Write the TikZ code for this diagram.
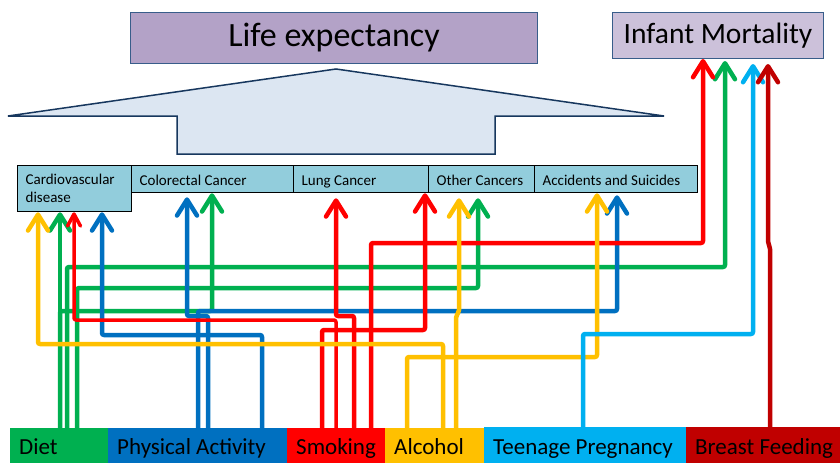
\documentclass[tikz,border=0pt]{standalone}
\usepackage{fontspec}
\setmainfont{Carlito}
\usetikzlibrary{arrows.meta,positioning,calc}
\definecolor{dietgreen}{RGB}{0,176,80}
\definecolor{actblue}{RGB}{0,112,192}
\definecolor{smokered}{RGB}{255,0,0}
\definecolor{alcyellow}{RGB}{255,192,0}
\definecolor{teenblue}{RGB}{0,176,240}
\definecolor{breastred}{RGB}{192,0,0}
\definecolor{diseasefill}{RGB}{146,205,220}
\definecolor{lifefill}{RGB}{179,162,199}
\definecolor{infantfill}{RGB}{204,193,218}
\definecolor{outcomeline}{RGB}{56,93,138}
\definecolor{bigarrowfill}{RGB}{220,230,242}
\definecolor{bigarrowline}{RGB}{23,55,94}

\begin{document}
\begin{tikzpicture}[x=1pt, y=-1pt,
  outcome/.style={draw=outcomeline, line width=1pt, anchor=north west, inner sep=0pt},
  disease/.style={draw=black, line width=1.3pt, fill=diseasefill, anchor=north west,
    inner xsep=8pt, inner ysep=0pt, minimum height=27pt, align=left,
    execute at begin node={\spaceskip=0pt\xspaceskip=0pt\relax},
    text height=13pt, text depth=1pt, font=\fontsize{15}{18}\selectfont},
  factor/.style={anchor=north west, inner xsep=9pt, inner ysep=0pt, minimum height=35pt,
    align=left, execute at begin node={\spaceskip=0pt\xspaceskip=0pt\relax},
    text height=19pt, text depth=1pt, font=\fontsize{23}{27}\selectfont},
  link/.style={line width=4.5pt, line join=round, rounded corners=2pt,
    -{Straight Barb[length=16pt,width=20pt,round]}},
  small tip/.style={line width=3.5pt, -{Straight Barb[length=12pt,width=13pt,round]}},
]
\useasboundingbox (0,0) rectangle (840,463);

% ----------------------
% Outcomes
% ----------------------
\node[outcome, fill=lifefill, minimum width=407pt, minimum height=51pt,
  font=\fontsize{34}{40}\selectfont] (life) at (130,12) {Life expectancy};
\node[outcome, fill=infantfill, minimum width=211pt, minimum height=46pt,
  font=\fontsize{29.5}{34}\selectfont] (infant) at (612,12) {Infant Mortality};

% big block arrow
\draw[line width=1.5pt, draw=bigarrowline, fill=bigarrowfill, line join=miter]
  (336,69) -- (664,116) -- (495,116) -- (495,154) -- (177,154) -- (177,116)
  -- (8,116) -- cycle;

% ----------------------
% Causes of death
% ----------------------
\node[disease, text width=146pt] (crc) at (131,165) {Colorectal Cancer};
\node[disease, text width=119pt] (lung) at (293,165) {Lung Cancer};
\node[disease, text width=90pt] (other) at (428,165) {Other Cancers};
\node[disease, text width=147pt] (acc) at (534,165) {Accidents and Suicides};
\node[disease, text width=98pt, minimum height=46pt, text height={}, text depth={}]
  (cvd) at (17,165) {Cardiovascular\\disease};

% ----------------------
% Risk factors
% ----------------------
\node[factor, fill=dietgreen, text width=80pt] (diet) at (10,428) {Diet};
\node[factor, fill=actblue, text width=161pt] (act) at (108,428) {Physical Activity};
\node[factor, fill=smokered, text width=80pt] (smoke) at (287,428) {Smoking};
\node[factor, fill=alcyellow, text width=81pt] (alc) at (385,428) {Alcohol};
\node[factor, fill=teenblue, text width=184pt, minimum height=36pt] (teen) at (484,427)
  {Teenage Pregnancy};
\node[factor, fill=breastred, text width=136pt, minimum height=36pt] (breast) at (686,427)
  {\mbox{Breast Feeding}};

% ----------------------
% Links (one colour per factor)
% ----------------------
% diet
\draw[link, dietgreen] (diet.north -| 60,0) -- (cvd.south -| 60,0);
\draw[link, dietgreen] (diet.north -| 60,0) |- (212,311) -- (crc.south -| 212,0);
\draw[link, dietgreen] (diet.north -| 67,0) |- (725,267) -- ([yshift=-2pt]infant.south -| 725,0);
\draw[link, dietgreen] (diet.north -| 77,0) |- (478,288) -- ([yshift=-5pt]other.south -| 478,0);

% physical activity
\draw[link, actblue] (act.north -| 262,0) |- (102,335) -- (cvd.south -| 102,0);
\draw[link, actblue] (act.north -| 208,0) |- (187,316) -- ([yshift=-4pt]crc.south -| 187,0);
\draw[link, actblue] (act.north -| 198,0) |- (617,311) -- ([yshift=-2pt]acc.south -| 617,0);

% smoking
\draw[link, small tip, smokered] (smoke.north -| 336,0) |- (74,320) -- (cvd.south -| 74,0);
\draw[link, smokered] (smoke.north -| 354,0) |- (336,316) -- ([yshift=-5pt]lung.south -| 336,0);
\draw[link, smokered] (smoke.north -| 322,0) |- (425,330) -- (lung.south -| 425,0);
\draw[link, smokered] (smoke.north -| 371,0) |- (703,243) -- (infant.south -| 703,0);

% alcohol
\draw[link, alcyellow] (alc.north -| 443,0) |- (38,344) -- (cvd.south -| 38,0);
\draw[link, alcyellow] (alc.north -| 456,0) -- (456,316) -- (459,312) -- ([yshift=-5pt]other.south -| 459,0);
\draw[link, alcyellow] (alc.north -| 407,0) |- (597,357) -- (acc.south -| 597,0);

% teenage pregnancy, breast feeding
\draw[link, teenblue] (teen.north -| 583,0) |- (753,334) -- ([yshift=-5pt]infant.south -| 753,0);
\draw[link, breastred] (breast.north -| 770,0) -- (770,247) -- (768,243) -- ([yshift=-5pt]infant.south -| 768,0);

\end{tikzpicture}
\end{document}
